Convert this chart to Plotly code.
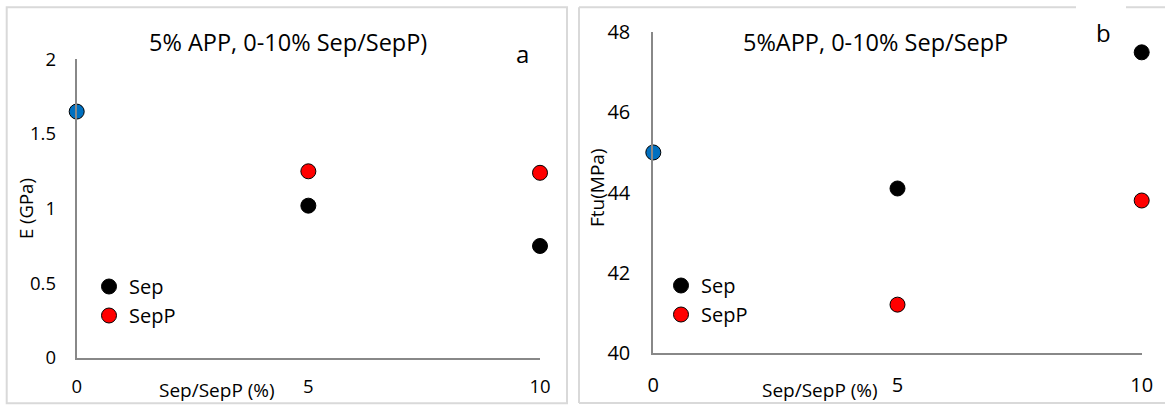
import plotly.graph_objects as go

# --- data ---------------------------------------------------------------
control_pct = [0]
filler_pct = [5, 10]

E_control = [1.65]
E_sep = [1.02, 0.75]
E_sepp = [1.25, 1.24]

Ftu_control = [45.0]
Ftu_sep = [44.1, 47.5]
Ftu_sepp = [41.2, 43.8]

x_ticks = [0, 5, 10]
E_ticks = [0, 0.5, 1, 1.5, 2]
E_ticklabels = ["0", "0.5", "1", "1.5", "2"]
Ftu_ticks = [40, 42, 44, 46, 48]

# --- layout helpers -----------------------------------------------------
W, H = 1165, 406
FONT = "Open Sans"
BLUE, RED, BLACK = "#0070C0", "#FF0000", "#000000"
AXIS_GRAY = "#888888"
BORDER_GRAY = "#D9D9D9"


def px(x):
    return x / W


def py(y):
    return 1 - y / H


fig = go.Figure()


def add_points(xs, ys, color, name, xa, ya, legend, show):
    fig.add_trace(go.Scatter(
        x=xs, y=ys, mode="markers", name=name,
        xaxis=xa, yaxis=ya, legend=legend, showlegend=show,
        cliponaxis=False,
        marker=dict(size=15, color=color, line=dict(color=BLACK, width=1)),
    ))


# panel a: modulus
add_points(control_pct, E_control, BLUE, "Control", "x", "y", "legend", False)
add_points(filler_pct, E_sep, BLACK, "Sep", "x", "y", "legend", True)
add_points(filler_pct, E_sepp, RED, "SepP", "x", "y", "legend", True)

# panel b: tensile strength
add_points(control_pct, Ftu_control, BLUE, "Control", "x2", "y2", "legend2", False)
add_points(filler_pct, Ftu_sep, BLACK, "Sep", "x2", "y2", "legend2", True)
add_points(filler_pct, Ftu_sepp, RED, "SepP", "x2", "y2", "legend2", True)

axis_common = dict(
    showgrid=False, zeroline=False, showline=True,
    linecolor=AXIS_GRAY, linewidth=2, ticks="",
    fixedrange=True, automargin=False,
)
font_a = dict(family=FONT, size=18.5, color=BLACK)
font_b = dict(family=FONT, size=20, color=BLACK)

legend_common = dict(
    font=dict(family=FONT, size=20, color=BLACK),
    bgcolor="rgba(0,0,0,0)", borderwidth=0,
    xanchor="left", yanchor="top", tracegroupgap=0,
    itemwidth=30,
)

fig.update_layout(
    width=W, height=H,
    margin=dict(l=0, r=0, t=0, b=0, pad=0, autoexpand=False),
    paper_bgcolor="white", plot_bgcolor="white",
    font=dict(family=FONT, color=BLACK),
    xaxis=dict(axis_common, domain=[px(76.7), px(540)], range=[0, 10],
               tickvals=x_ticks, anchor="y", tickfont=font_a,
               ticklabelstandoff=11),
    yaxis=dict(axis_common, domain=[py(358), py(59.3)], range=[0, 2],
               tickvals=E_ticks, ticktext=E_ticklabels, anchor="x",
               tickfont=font_a, ticklabelstandoff=15),
    xaxis2=dict(axis_common, domain=[px(653.3), px(1141.7)], range=[0, 10],
                tickvals=x_ticks, anchor="y2", tickfont=font_b,
                ticklabelstandoff=13),
    yaxis2=dict(axis_common, domain=[py(352.7), py(32.3)], range=[40, 48],
                tickvals=Ftu_ticks, anchor="x2", tickfont=font_b,
                ticklabelstandoff=17),
    legend=dict(legend_common, x=px(89), y=py(267)),
    legend2=dict(legend_common, x=px(661), y=py(266)),
)

# panel frames
fig.add_shape(type="rect", xref="paper", yref="paper",
              x0=px(6.7), x1=px(567), y0=py(403.3), y1=py(7.3),
              line=dict(color=BORDER_GRAY, width=2), layer="below")
for seg in [((579, 7.3), (579, 403)), ((579, 403), (1166, 403)),
            ((579, 7.3), (1076, 7.3)), ((1126, 7.3), (1166, 7.3))]:
    (xa0, ya0), (xa1, ya1) = seg
    fig.add_shape(type="line", xref="paper", yref="paper",
                  x0=px(xa0), y0=py(ya0), x1=px(xa1), y1=py(ya1),
                  line=dict(color=BORDER_GRAY, width=2), layer="below")


def label(text, x, y, size, angle=0):
    fig.add_annotation(text=text, xref="paper", yref="paper",
                       x=px(x), y=py(y), xanchor="center", yanchor="middle",
                       showarrow=False, textangle=angle,
                       font=dict(family=FONT, size=size, color=BLACK))


label("5% APP, 0-10% Sep/SepP)", 287.5, 42, 23.5)
label("5%APP, 0-10% Sep/SepP", 875, 42, 23.5)
label("a", 522, 54, 24)
label("b", 1103, 32, 24)
label("E (GPa)", 25, 209, 18.5, -90)
label("Ftu(MPa)", 597, 188, 19, -90)
label("Sep/SepP (%)", 217, 390, 19)
label("Sep/SepP (%)", 820, 390, 19)

fig.write_html("out.html")
